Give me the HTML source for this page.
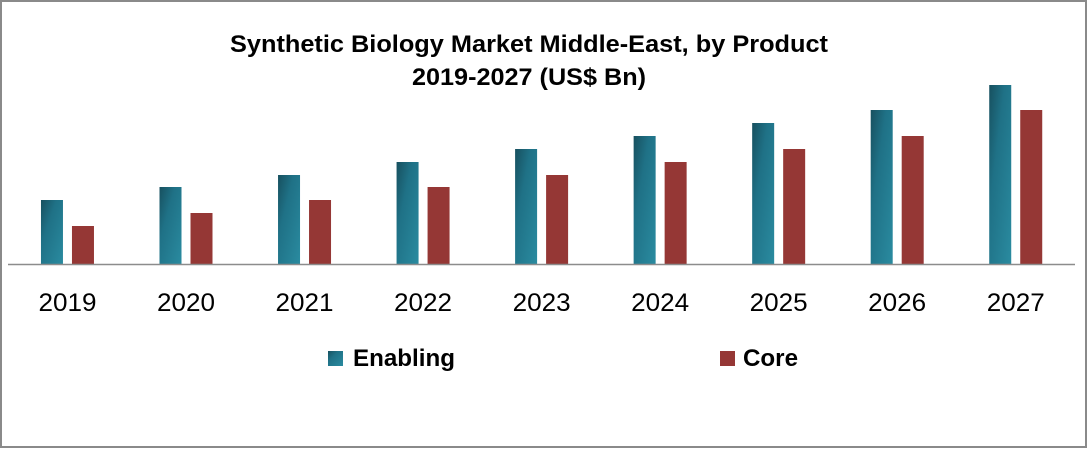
<!DOCTYPE html>
<html><head><meta charset="utf-8"><style>
html,body{margin:0;padding:0;background:#fff}
svg{display:block}
</style></head><body>
<svg id="chart" width="1088" height="449" xmlns="http://www.w3.org/2000/svg" font-family="Liberation Sans, sans-serif">
<defs>
<linearGradient id="gEn" x1="0" y1="0" x2="1" y2="1">
<stop offset="0" stop-color="#17505f"/><stop offset="0.35" stop-color="#1f7186"/><stop offset="1" stop-color="#2a8ba0"/>
</linearGradient>
</defs>
<rect x="1" y="1" width="1085" height="446" fill="#fff" stroke="#8a8a8a" stroke-width="2"/>
<text x="529" y="52" text-anchor="middle" font-size="24" font-weight="bold" fill="#000" textLength="598" lengthAdjust="spacingAndGlyphs">Synthetic Biology Market Middle-East, by Product</text>
<text x="529" y="85" text-anchor="middle" font-size="24" font-weight="bold" fill="#000" textLength="234" lengthAdjust="spacingAndGlyphs">2019-2027 (US$ Bn)</text>
<g id="bars"></g>
<line x1="8" y1="264.5" x2="1075" y2="264.5" stroke="#8c8c8c" stroke-width="1.5"/>
<g id="labels"></g>
<rect x="328" y="351" width="15" height="15" fill="url(#gEn)"/>
<text x="353" y="366" font-size="24" font-weight="bold" fill="#000" textLength="102" lengthAdjust="spacingAndGlyphs">Enabling</text>
<rect x="720" y="351" width="15" height="15" fill="#953735"/>
<text x="743" y="366" font-size="24" font-weight="bold" fill="#000" textLength="55" lengthAdjust="spacingAndGlyphs">Core</text>
</svg>
<script>
const categories = ["2019","2020","2021","2022","2023","2024","2025","2026","2027"];
const enabling = [6.4, 7.7, 8.9, 10.2, 11.5, 12.8, 14.1, 15.4, 17.9];
const core = [3.8, 5.1, 6.4, 7.7, 8.9, 10.2, 11.5, 12.8, 15.4];
const NS = "http://www.w3.org/2000/svg";
const x0 = 8.2, x1 = 1075, baseY = 264, pxPerUnit = 10;
const band = (x1 - x0) / categories.length;
function xCenter(i){ return x0 + band * (i + 0.5); }
function yScale(v){ return baseY - v * pxPerUnit; }
const bars = document.getElementById('bars');
const labels = document.getElementById('labels');
categories.forEach((c, i) => {
  const cx = xCenter(i);
  const r1 = document.createElementNS(NS, 'rect');
  r1.setAttribute('x', cx - 26.5);
  r1.setAttribute('y', yScale(enabling[i]));
  r1.setAttribute('width', 22);
  r1.setAttribute('height', baseY - yScale(enabling[i]));
  r1.setAttribute('fill', 'url(#gEn)');
  
  
  bars.appendChild(r1);
  const r2 = document.createElementNS(NS, 'rect');
  r2.setAttribute('x', cx + 4.5);
  r2.setAttribute('y', yScale(core[i]));
  r2.setAttribute('width', 22);
  r2.setAttribute('height', baseY - yScale(core[i]));
  r2.setAttribute('fill', '#953735');
  
  
  bars.appendChild(r2);
  const t = document.createElementNS(NS, 'text');
  t.setAttribute('x', cx);
  t.setAttribute('y', 311);
  t.setAttribute('text-anchor', 'middle');
  t.setAttribute('font-size', '25');
  t.setAttribute('fill', '#000');
  t.setAttribute('textLength', '58');
  t.setAttribute('lengthAdjust', 'spacingAndGlyphs');
  
  
  t.textContent = c;
  labels.appendChild(t);
});
</script>
</body></html>
